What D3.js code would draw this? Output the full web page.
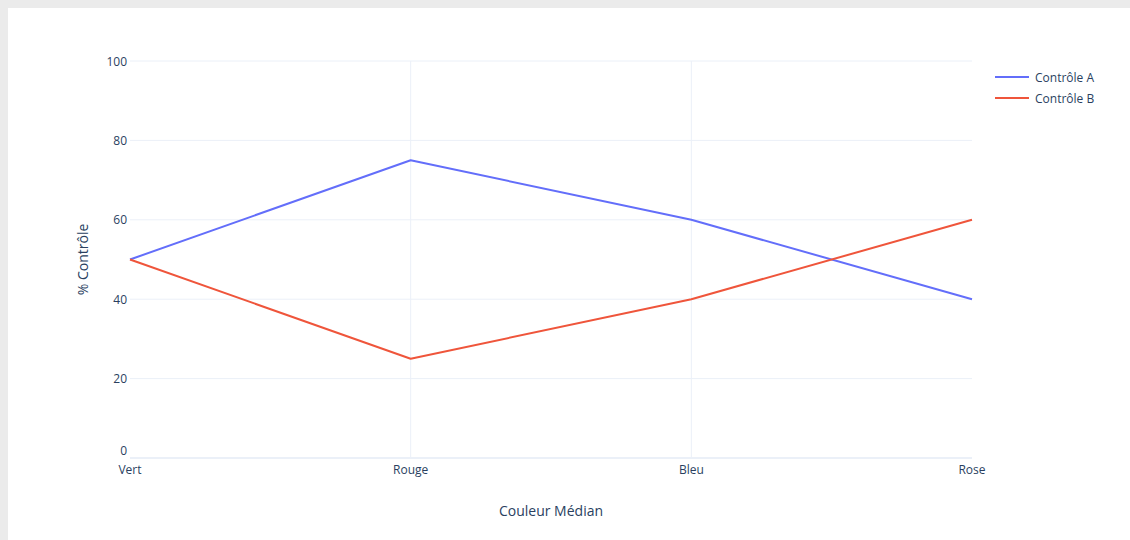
<!DOCTYPE html>
<html>
<head>
<meta charset="utf-8">
<script src="https://cdn.jsdelivr.net/npm/d3@7"></script>
<style>
  html, body { margin: 0; padding: 0; background: #ebebeb; }
  svg { display: block; }
  text { font-family: "Open Sans", "Noto Sans", sans-serif; fill: #2a3f5f; }
</style>
</head>
<body>
<svg id="chart" width="1130" height="540"></svg>
<script>
const categories = ["Vert", "Rouge", "Bleu", "Rose"];
const seriesNames = ["Contrôle A", "Contrôle B"];
const seriesA = [50, 75, 60, 40];
const seriesB = [50, 25, 40, 60];
const yTicks = [0, 20, 40, 60, 80, 100];
const colors = ["#636efa", "#EF553B"];
const xTitle = "Couleur Médian";
const yTitle = "% Contrôle";

(function () {
const svg = d3.select("#chart");
svg.append("rect").attr("x", 8).attr("y", 8).attr("width", 1122).attr("height", 532).attr("fill", "#ffffff");

const pL = 130, pR = 972, pT = 61, pB = 458;
const x = d3.scalePoint().domain(categories).range([pL, pR]);
const y = d3.scaleLinear().domain([0, 100]).range([pB, pT]);

// grid
const g = svg.append("g");
g.selectAll("line.h").data(yTicks.filter(d => d !== 0)).enter().append("line")
  .attr("x1", pL).attr("x2", pR)
  .attr("y1", d => y(d)).attr("y2", d => y(d))
  .attr("stroke", "#EBF0F8").attr("stroke-width", 1);
g.selectAll("line.v").data(categories.slice(1, -1)).enter().append("line")
  .attr("x1", d => x(d)).attr("x2", d => x(d))
  .attr("y1", pT).attr("y2", pB)
  .attr("stroke", "#EBF0F8").attr("stroke-width", 1);
// zero line
g.append("line").attr("x1", pL).attr("x2", pR)
  .attr("y1", y(0)).attr("y2", y(0))
  .attr("stroke", "#EBF0F8").attr("stroke-width", 2);

// y tick labels
svg.append("g").selectAll("text").data(yTicks).enter().append("text")
  .attr("x", pL - 3).attr("y", d => y(d) - (d === 0 ? 8 : 0))
  .attr("text-anchor", "end").attr("dominant-baseline", "central")
  .attr("font-size", 12).text(d => d);

// x tick labels
svg.append("g").selectAll("text").data(categories).enter().append("text")
  .attr("x", d => x(d)).attr("y", pB + 11)
  .attr("text-anchor", "middle").attr("dominant-baseline", "central")
  .attr("font-size", 12).text(d => d);

// axis titles
svg.append("text").attr("x", (pL + pR) / 2).attr("y", 510)
  .attr("text-anchor", "middle").attr("dominant-baseline", "central")
  .attr("font-size", 14).text(xTitle);
svg.append("text").attr("transform", `translate(82,${(pT + pB) / 2}) rotate(-90)`)
  .attr("text-anchor", "middle").attr("dominant-baseline", "central")
  .attr("font-size", 14).text(yTitle);

// lines
const line = d3.line().x((d, i) => x(categories[i])).y(d => y(d));
[seriesA, seriesB].forEach((s, i) => {
  svg.append("path").datum(s).attr("d", line)
    .attr("fill", "none").attr("stroke", colors[i]).attr("stroke-width", 2)
    .attr("stroke-linejoin", "round");
});

// legend
const leg = svg.append("g");
seriesNames.forEach((n, i) => {
  const ly = 77 + i * 21;
  leg.append("line").attr("x1", 995).attr("x2", 1029).attr("y1", ly).attr("y2", ly)
    .attr("stroke", colors[i]).attr("stroke-width", 2);
  leg.append("text").attr("x", 1035).attr("y", ly).attr("dominant-baseline", "central")
    .attr("font-size", 12).text(n);
});
})();
</script>
</body>
</html>
